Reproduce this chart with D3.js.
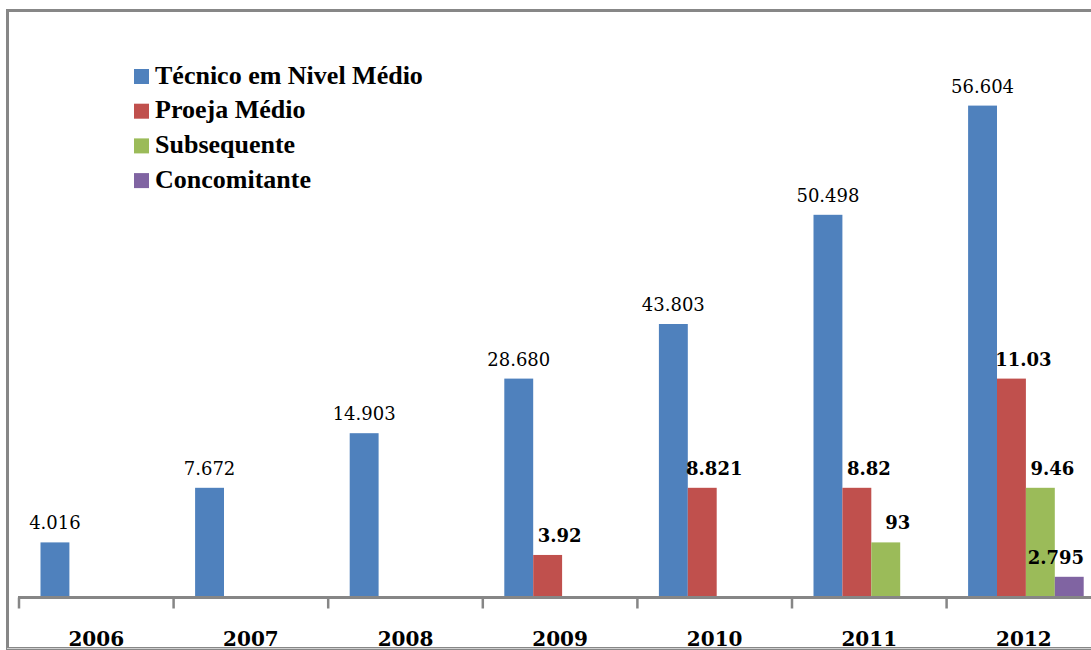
<!DOCTYPE html>
<html><head><meta charset="utf-8">
<script src="https://cdn.jsdelivr.net/npm/d3@7"></script>
<style>html,body{margin:0;padding:0;background:#fff;overflow:hidden}</style>
</head><body>
<svg id="c" width="1091" height="650"></svg>
<script>
const categories = ['2006','2007','2008','2009','2010','2011','2012'];
const seriesNames = ['Técnico em Nivel Médio','Proeja Médio','Subsequente','Concomitante'];
const seriesColors = ['#4f81bd','#c0504d','#9bbb59','#8064a2'];
// bar heights as drawn in the picture (chart units), and the data labels printed above them
const tecnicoHeights = [1, 2, 3, 4, 5, 7, 9];
const tecnicoLabels = ['4.016','7.672','14.903','28.680','43.803','50.498','56.604'];
const proejaHeights = [null, null, null, 0.77, 2, 2, 4];
const proejaLabels = [null, null, null, '3.92','8.821','8.82','11.03'];
const subseqHeights = [null, null, null, null, null, 1, 2];
const subseqLabels = [null, null, null, null, null, '93','9.46'];
const concomHeights = [null, null, null, null, null, null, 0.37];
const concomLabels = [null, null, null, null, null, null, '2.795'];

const heights = [tecnicoHeights, proejaHeights, subseqHeights, concomHeights];
const labels = [tecnicoLabels, proejaLabels, subseqLabels, concomLabels];

const svg = d3.select('#c');
const W = 1091, H = 650;

// frame
svg.append('rect').attr('x',7.5).attr('y',10.5).attr('width',1200).attr('height',638)
  .attr('fill','none').attr('stroke','#878787').attr('stroke-width',3);
svg.append('line').attr('x1',7).attr('x2',W).attr('y1',648.5).attr('y2',648.5)
  .attr('stroke','#d0d0d0').attr('stroke-width',1);

const x0 = d3.scaleBand().domain(categories).range([19, 19 + 7*154.6]).paddingInner(0).paddingOuter(0);
const x1 = d3.scaleBand().domain(d3.range(4)).range([21.5, 21.5 + 4*28.9]);
const y = d3.scaleLinear().domain([0, 9]).range([597, 597 - 9*54.6]);

const data = [];
categories.forEach((c, i) => {
  heights.forEach((arr, s) => {
    if (arr[i] != null) data.push({cat: c, s, h: arr[i], label: labels[s][i]});
  });
});

svg.append('g').selectAll('rect').data(data).join('rect')
  .attr('x', d => x0(d.cat) + x1(d.s))
  .attr('width', x1.bandwidth())
  .attr('y', d => y(d.h))
  .attr('height', d => y(0) - y(d.h))
  .attr('fill', d => seriesColors[d.s]);

// axis
const axis = d3.axisBottom(x0).tickSize(0).tickFormat('');
const gAxis = svg.append('g').attr('transform', `translate(0,${y(0)+0.5})`).call(axis);
gAxis.select('.domain').attr('stroke','#868686').attr('stroke-width',3).attr('d', `M18,0H${W+20}`);
const bounds = categories.map(c => x0(c)).concat([x0.range()[1]]);
gAxis.selectAll('line.tk').data(bounds).join('line').attr('class','tk')
  .attr('x1', d => d).attr('x2', d => d).attr('y1', 0).attr('y2', 11)
  .attr('stroke','#868686').attr('stroke-width',2.5);
svg.append('g').selectAll('text').data(categories).join('text')
  .attr('x', d => x0(d) + x0.bandwidth()/2)
  .attr('y', 646)
  .attr('text-anchor','middle')
  .attr('font-family','"DejaVu Serif", serif').attr('font-weight','bold').attr('font-size',20)
  .attr('fill','#000').text(d => d);

// data labels
const lbl = svg.append('g').selectAll('text').data(data.filter(d => d.label)).join('text')
  .attr('x', d => x0(d.cat) + x1(d.s) + x1.bandwidth()/2 + (d.s === 0 ? 0 : 12))
  .attr('y', d => y(d.h) - 13)
  .attr('text-anchor','middle')
  .attr('font-family','"DejaVu Serif", serif')
  .attr('font-weight', d => d.s === 0 ? 'normal' : 'bold')
  .attr('font-size', 18)
  .attr('fill','#000').text(d => d.label);
lbl.each(function(){
  const bb = this.getBBox();
  if (bb.x + bb.width > 1084) {
    d3.select(this).attr('x', +d3.select(this).attr('x') - (bb.x + bb.width - 1084));
  }
});

// legend
const leg = svg.append('g').selectAll('g').data(seriesNames).join('g')
  .attr('transform', (d, i) => `translate(134,${69 + i*34.7})`);
leg.append('rect').attr('width',15).attr('height',15).attr('fill', (d,i) => seriesColors[i]);
leg.append('text').attr('x',21).attr('y',14.5)
  .attr('font-family','"Liberation Serif", serif').attr('font-weight','bold').attr('font-size',26)
  .attr('fill','#000').text(d => d);
</script>
</body></html>
